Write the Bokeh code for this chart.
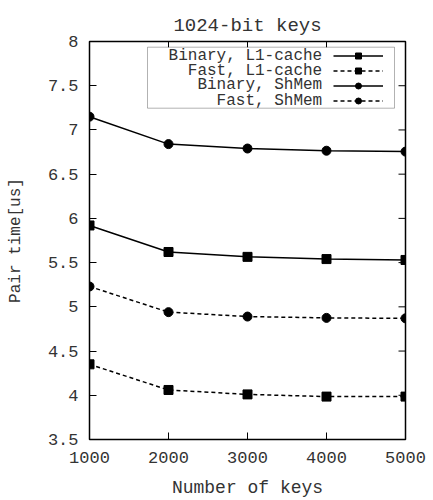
import math
from bokeh.plotting import figure
from bokeh.models import (FixedTicker, Legend, LegendItem, BoxAnnotation, Label, Range1d)
from bokeh.embed import file_html
from bokeh.resources import INLINE

# ---- data ----
keys = [1000, 2000, 3000, 4000, 5000]
binary_l1 = [5.92, 5.62, 5.565, 5.54, 5.53]
fast_l1 = [4.35, 4.06, 4.01, 3.985, 3.985]
binary_shmem = [7.15, 6.84, 6.79, 6.765, 6.755]
fast_shmem = [5.23, 4.94, 4.89, 4.875, 4.87]
series_names = ["Binary, L1-cache", "Fast, L1-cache", "Binary, ShMem", "Fast, ShMem"]
x_ticks = [1000, 2000, 3000, 4000, 5000]
y_ticks = [3.5, 4, 4.5, 5, 5.5, 6, 6.5, 7, 7.5, 8]
y_tick_labels = ["3.5", "4", "4.5", "5", "5.5", "6", "6.5", "7", "7.5", "8"]
title_text = "1024-bit keys"
x_label = "Number of keys"
y_label = "Pair time[us]"

X_MIN, X_MAX = 1000, 5000
Y_MIN, Y_MAX = 3.5, 8

FONT = "Liberation Mono"
TXT = "#333333"

p = figure(width=433, height=500, frame_width=316, frame_height=398,
           min_border_left=89, min_border_right=28, min_border_top=41, min_border_bottom=61,
           x_range=Range1d(X_MIN, X_MAX), y_range=Range1d(Y_MIN, Y_MAX),
           output_backend="svg", toolbar_location=None, title=title_text)

p.title.align = "center"
p.title.text_font = FONT
p.title.text_font_size = "19px"
p.title.text_font_style = "normal"
p.title.text_color = TXT
p.title.standoff = 10

p.grid.visible = False
p.outline_line_color = "black"
p.outline_line_width = 1.5
p.background_fill_color = "white"
p.border_fill_color = "white"

for ax in (p.xaxis[0], p.yaxis[0]):
    ax.major_label_text_font = FONT
    ax.major_label_text_font_size = "17px"
    ax.major_label_text_color = TXT
    ax.axis_label_text_font = FONT
    ax.axis_label_text_font_style = "normal"
    ax.axis_label_text_color = TXT
    ax.major_tick_in = 7
    ax.major_tick_out = 0
    ax.minor_tick_line_color = None
    ax.axis_line_color = None
    ax.major_tick_line_color = "black"
    ax.major_tick_line_width = 1

p.xaxis[0].ticker = FixedTicker(ticks=x_ticks)
p.xaxis[0].axis_label = x_label
p.xaxis[0].axis_label_text_font_size = "18px"
p.xaxis[0].major_label_standoff = 12
p.xaxis[0].axis_label_standoff = 12

p.yaxis[0].ticker = FixedTicker(ticks=y_ticks)
p.yaxis[0].major_label_overrides = {t: l for t, l in zip(y_ticks, y_tick_labels)}
p.yaxis[0].axis_label = y_label
p.yaxis[0].axis_label_text_font_size = "16px"
p.yaxis[0].major_label_standoff = 11
p.yaxis[0].axis_label_standoff = 20

# mirrored inward ticks on the right and top edges
p.ray(x=[X_MAX] * len(y_ticks), y=y_ticks, length=7, length_units="screen",
      angle=math.pi, line_color="black", line_width=1)
p.ray(x=x_ticks, y=[Y_MAX] * len(x_ticks), length=7, length_units="screen",
      angle=-math.pi / 2, line_color="black", line_width=1)

styles = [
    (binary_l1, "solid", "square", 9),
    (fast_l1, "4 3", "square", 9),
    (binary_shmem, "solid", "circle", 9),
    (fast_shmem, "4 3", "circle", 9),
]
items = []
for vals, dash, marker, size in styles:
    rl = p.line(keys, vals, line_color="black", line_width=1.5, line_dash=dash)
    rs = p.scatter(keys, vals, marker=marker, size=size, fill_color="black", line_color="black")
    items.append(LegendItem(label=" ", renderers=[rl, rs]))

# legend frame
box = BoxAnnotation(left=58, right=305, bottom=331.3, top=392.3,
                    left_units="screen", right_units="screen",
                    bottom_units="screen", top_units="screen",
                    fill_color="white", fill_alpha=1, line_color="black", line_width=1)
p.add_layout(box)

# legend samples (glyphs on the right of the texts, as in the original)
leg = Legend(items=items, location=(243.7, 331.5), padding=0, margin=0, spacing=0,
             glyph_width=50, glyph_height=15, label_width=0, label_height=15,
             label_standoff=0, label_text_font_size="11px",
             border_line_color=None, background_fill_alpha=0)
p.add_layout(leg, "center")

# legend texts
row_y = [384.0, 369.0, 354.7, 339.0]
for name, yy in zip(series_names, row_y):
    p.add_layout(Label(x=232.7, y=yy, x_units="screen", y_units="screen", text=name,
                       text_align="right", text_baseline="middle", text_font=FONT,
                       text_font_size="16px", text_color=TXT))

open("out.html", "w").write(file_html(p, INLINE))
